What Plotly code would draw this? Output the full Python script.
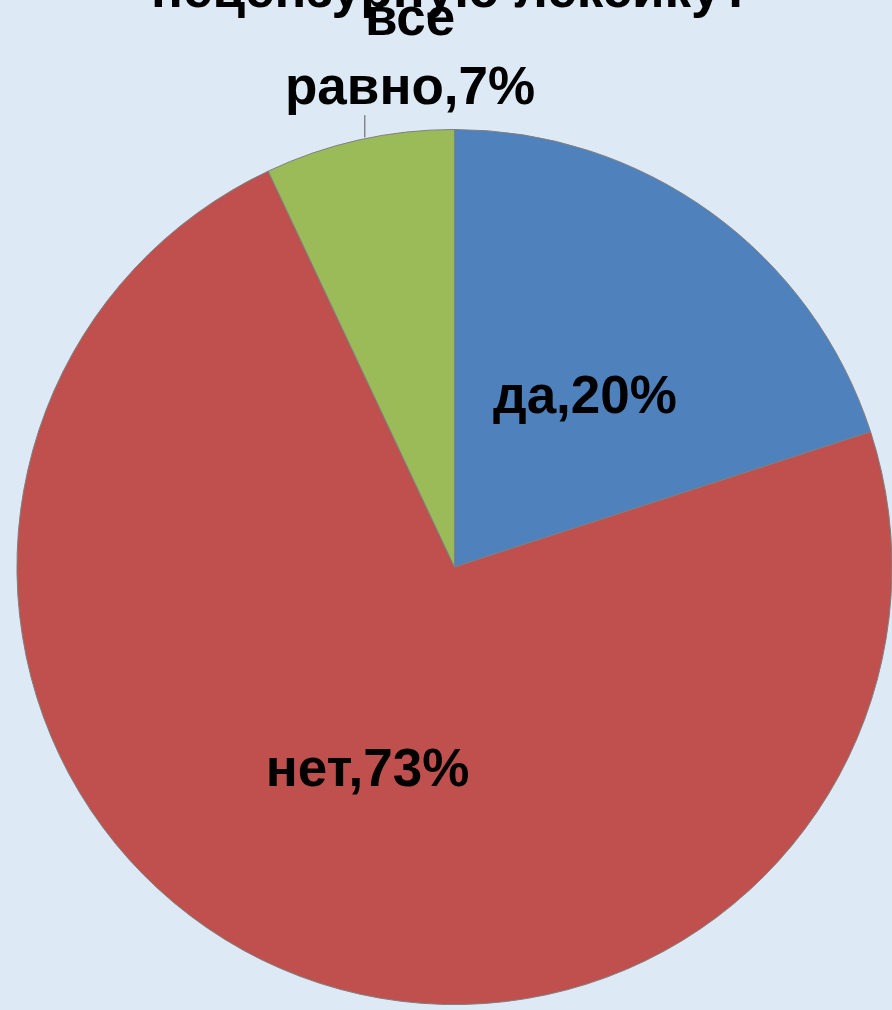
import plotly.graph_objects as go

# datos del gráfico
categorias = ['да', 'нет', 'все<br>равно']
valores = [20, 73, 7]
colores = ['#4f81bd', '#c0504d', '#9bbb59']
titulo = 'нецензурную лексику?'

def etiqueta(i):
    return '<b>%s,%d%%</b>' % (categorias[i], valores[i])

fig = go.Figure()
fig.add_trace(go.Pie(labels=categorias, values=valores,
                     marker=dict(colors=colores, line=dict(color='#7f7f7f', width=1)),
                     sort=False, direction='clockwise', rotation=0,
                     # solo "нет" se deja al pie, los otros van como anotaciones
                     texttemplate=['', '<b>%{label},%{value}%</b>', ''],
                     textposition='inside',
                     insidetextorientation='horizontal',
                     textfont=dict(family='Liberation Sans', size=53, color='black'),
                     showlegend=False,
                     domain=dict(x=[0.019, 1.0], y=[0.0054, 0.8718])))

fuente = dict(family='Liberation Sans', size=53, color='black')

# etiqueta "да"
fig.add_annotation(text=etiqueta(0), xref='paper', yref='paper',
                   x=0.656, y=0.609, xanchor='center', yanchor='middle',
                   showarrow=False, font=fuente)

# etiqueta "все равно" fuera del pie
fig.add_annotation(text=etiqueta(2), xref='paper', yref='paper',
                   x=0.46, y=0.950, xanchor='center', yanchor='middle',
                   showarrow=False, font=fuente)
fig.add_shape(type='line', xref='paper', yref='paper',
              x0=0.409, x1=0.409, y0=0.886, y1=0.864,
              line=dict(color='#595959', width=1))

# titulo cortado arriba
fig.add_annotation(text='<b>' + titulo + '</b>', xref='paper', yref='paper',
                   x=0.507, y=1.0, xanchor='center', yanchor='middle',
                   showarrow=False, yshift=12, font=fuente)

fig.update_layout(width=892, height=1010,
                  margin=dict(l=0, r=0, t=0, b=0),
                  paper_bgcolor='#dde9f5',
                  font=dict(family='Liberation Sans'))

fig.write_html('out.html', config={'displayModeBar': False},
               post_script="document.body.style.margin='0px';")
